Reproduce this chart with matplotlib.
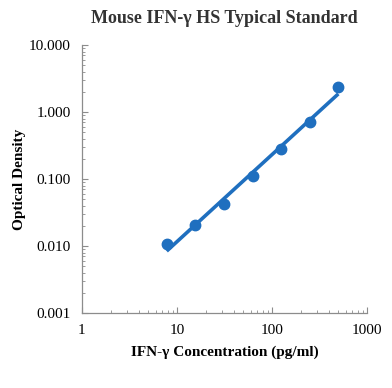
import numpy as np
import matplotlib
matplotlib.use('Agg')
import matplotlib.pyplot as plt
from matplotlib.ticker import LogLocator, NullFormatter

conc = [7.8, 15.6, 31.25, 62.5, 125, 250, 500]
od = [0.0107, 0.0205, 0.042, 0.11, 0.285, 0.72, 2.35]
xticks = [1, 10, 100, 1000]
xticklabels = ['1', '10', '100', '1000']
yticks = [0.001, 0.01, 0.1, 1, 10]
yticklabels = ['0.001', '0.010', '0.100', '1.000', '10.000']

plt.rcParams['font.family'] = ['Liberation Serif', 'DejaVu Serif']
blue = '#1F6FBF'

fig = plt.figure(figsize=(3.92, 3.88), dpi=100)
ax = fig.add_axes([0.209, 0.193, 0.727, 0.691])

# power trendline (linear fit in log-log space)
k, b = np.polyfit(np.log10(conc), np.log10(od), 1)
xs = np.array([conc[0], conc[-1]])
ax.plot(xs, 10 ** (k * np.log10(xs) + b), color=blue, lw=2.6, solid_capstyle='butt')
ax.plot(conc, od, 'o', color=blue, ms=7.5)

ax.set_xscale('log')
ax.set_yscale('log')
ax.set_xlim(1, 1000)
ax.set_ylim(0.001, 10)
ax.set_xticks(xticks)
ax.set_xticklabels(xticklabels)
ax.set_yticks(yticks)
ax.set_yticklabels(yticklabels)
ax.xaxis.set_minor_locator(LogLocator(base=10, subs=np.arange(2, 10)))
ax.yaxis.set_minor_locator(LogLocator(base=10, subs=np.arange(2, 10)))
ax.xaxis.set_minor_formatter(NullFormatter())
ax.yaxis.set_minor_formatter(NullFormatter())

for s in ['top', 'right']:
    ax.spines[s].set_visible(False)
for s in ['left', 'bottom']:
    ax.spines[s].set_color('#8c8c8c')
    ax.spines[s].set_linewidth(0.9)

ax.tick_params(which='major', direction='in', length=4, color='#8c8c8c', labelsize=11, pad=8)
ax.tick_params(which='minor', direction='in', length=2, color='#8c8c8c')

ax.set_title('Mouse IFN-\u03b3 HS Typical Standard', fontsize=13, fontweight='bold',
             color='#333333', pad=16)
ax.set_xlabel('IFN-\u03b3 Concentration (pg/ml)', fontsize=11, fontweight='bold', labelpad=6)
ax.set_ylabel('Optical Density', fontsize=11, fontweight='bold')
ax.yaxis.set_label_coords(-0.196, 0.5)

fig.savefig('out.png', dpi=100)
